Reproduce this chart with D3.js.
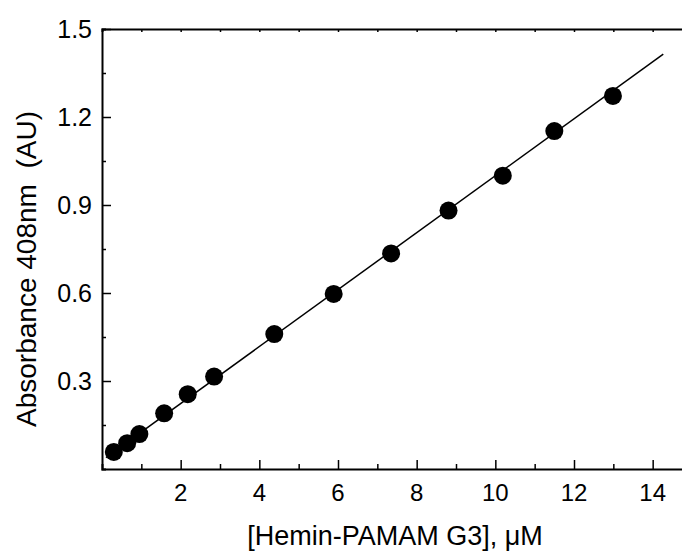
<!DOCTYPE html>
<html>
<head>
<meta charset="utf-8">
<script src="https://cdn.jsdelivr.net/npm/d3@7"></script>
<style>
  body { margin: 0; background: #fff; }
  svg { display: block; font-family: "Liberation Sans", Arial, sans-serif; }
</style>
</head>
<body>
<svg id="chart" width="682" height="551"></svg>
<script>
// measured points
const concX = [0.3, 0.64, 0.95, 1.58, 2.18, 2.85, 4.38, 5.89, 7.35, 8.81, 10.19, 11.5, 12.99];
const absY = [0.058, 0.088, 0.119, 0.19, 0.255, 0.315, 0.46, 0.597, 0.735, 0.881, 1.0, 1.152, 1.272];
// linear fit end points
const fitX = [0.1, 14.27];
const fitY = [0.039, 1.414];
const xTickLabels = [2, 4, 6, 8, 10, 12, 14];
const yTickLabels = [0.3, 0.6, 0.9, 1.2, 1.5];

const svg = d3.select("#chart");
const plotLeft = 102, plotRight = 692, plotTop = 29, plotBottom = 469;

const x = d3.scaleLinear().domain([0, 15]).range([plotLeft, plotRight]);
const y = d3.scaleLinear().domain([0, 1.5]).range([plotBottom, plotTop]);

const xMinor = d3.range(1, 15, 1);
const yMinor = d3.range(0.15, 1.5, 0.15);

// bottom axis, ticks pointing in
const xAxis = svg.append("g").attr("transform", `translate(0,${plotBottom})`)
  .call(d3.axisTop(x).tickValues(xMinor).tickSize(5).tickFormat(""));
xAxis.selectAll(".tick line").filter(d => d % 2 === 0).attr("y2", -9);
xAxis.append("g").selectAll("text").data(xTickLabels).join("text")
  .attr("x", d => x(d)).attr("y", 32)
  .attr("text-anchor", "middle").attr("font-size", 24).attr("fill", "#000")
  .text(d => d);

// top axis
svg.append("g").attr("transform", `translate(0,${plotTop})`)
  .call(d3.axisBottom(x).tickValues(xMinor).tickSize(3).tickFormat(""));

// left axis
const yAxis = svg.append("g").attr("transform", `translate(${plotLeft},0)`)
  .call(d3.axisRight(y).tickValues(yMinor).tickSize(4).tickFormat(""));
yAxis.selectAll(".tick line").filter((d, i) => i % 2 === 1).attr("x2", 9);
yAxis.append("g").selectAll("text").data(yTickLabels).join("text")
  .attr("x", -10).attr("y", d => y(d)).attr("dy", "0.36em")
  .attr("text-anchor", "end").attr("font-size", 25).attr("fill", "#000")
  .text(d => d.toFixed(1));

svg.selectAll(".domain").attr("stroke-width", 2).attr("stroke", "#000");
svg.selectAll(".tick line").attr("stroke-width", 1.5).attr("stroke", "#000");

// fit line
svg.append("line")
  .attr("x1", x(fitX[0])).attr("y1", y(fitY[0]))
  .attr("x2", x(fitX[1])).attr("y2", y(fitY[1]))
  .attr("stroke", "#000").attr("stroke-width", 1.5);

svg.append("g").selectAll("circle").data(concX).join("circle")
  .attr("cx", d => x(d)).attr("cy", (d, i) => y(absY[i]))
  .attr("r", 9).attr("fill", "#000");

// titles
svg.append("text").attr("x", 395).attr("y", 545)
  .attr("text-anchor", "middle").attr("font-size", 27)
  .text("[Hemin-PAMAM G3], μM");

svg.append("text")
  .attr("transform", "translate(36,269) rotate(-90)")
  .attr("text-anchor", "middle").attr("font-size", 28)
  .style("white-space", "pre")
  .text("Absorbance 408nm  (AU)");
</script>
</body>
</html>
